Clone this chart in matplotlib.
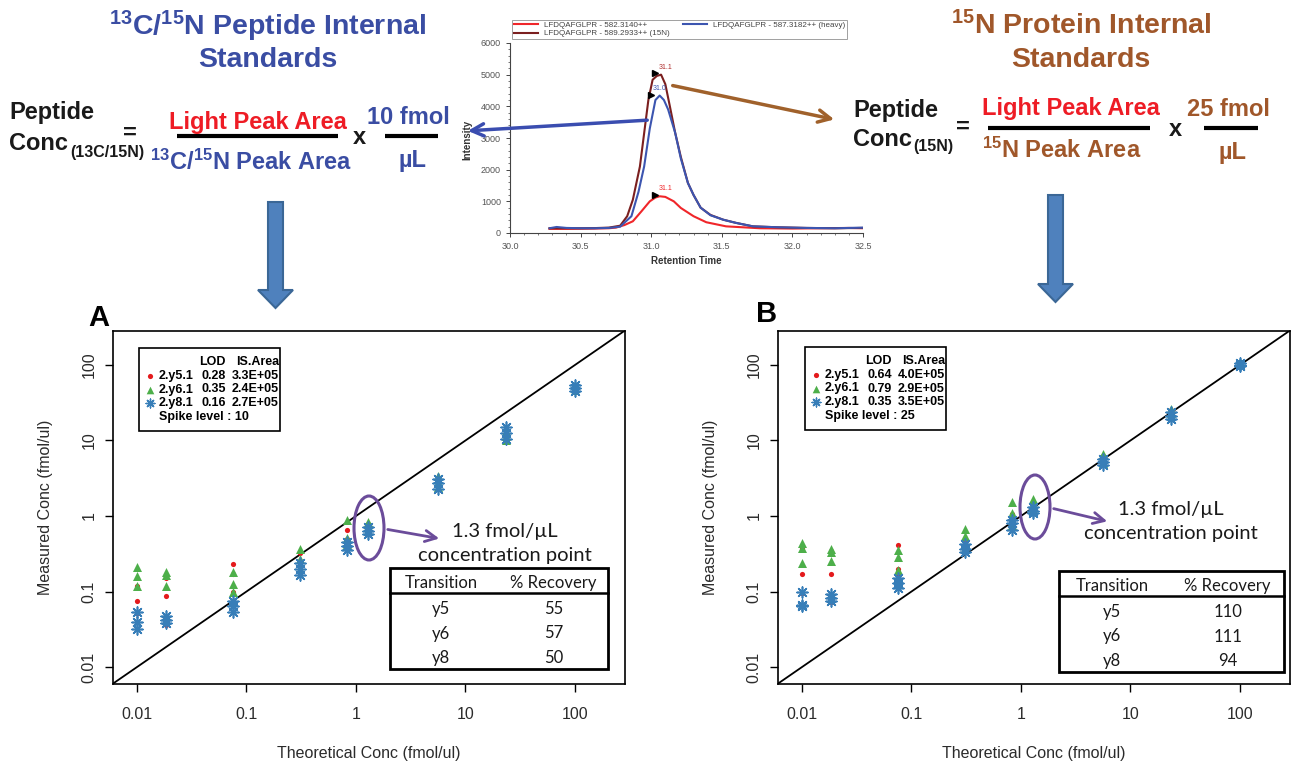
import numpy as np
import matplotlib.pyplot as plt
from matplotlib import patches
from matplotlib.ticker import MultipleLocator, NullLocator

plt.rcParams['font.family'] = ['Liberation Sans', 'DejaVu Sans']
plt.rcParams['mathtext.fontset'] = 'custom'
plt.rcParams['mathtext.rm'] = 'Liberation Sans:bold'
plt.rcParams['mathtext.it'] = 'Liberation Sans:bold'
plt.rcParams['mathtext.bf'] = 'Liberation Sans:bold'

W, H = 1292, 763

# chromatogram traces (retention time, intensity)
rt_light = [30.28, 30.40, 30.50, 30.60, 30.70, 30.75, 30.81, 30.87, 30.93, 30.99, 31.03, 31.06,
            31.10, 31.16, 31.21, 31.30, 31.39, 31.53, 31.77, 32.00, 32.20, 32.40, 32.50]
int_light = [130, 130, 135, 140, 150, 170, 250, 370, 680, 1000, 1120, 1160,
             1140, 1000, 790, 530, 340, 210, 150, 140, 150, 160, 150]

rt_heavy = [30.28, 30.33, 30.40, 30.50, 30.60, 30.70, 30.78, 30.86, 30.91, 30.95, 30.99, 31.03, 31.06,
            31.09, 31.12, 31.17, 31.21, 31.26, 31.30, 31.35, 31.42, 31.51, 31.60, 31.72, 31.90, 32.10,
            32.30, 32.50]
int_heavy = [150, 190, 160, 150, 150, 160, 200, 530, 1300, 2100, 3300, 4200, 4340,
             4200, 3900, 3160, 2350, 1580, 1200, 800, 560, 420, 320, 210, 180, 160,
             150, 170]

rt_15n = [30.28, 30.40, 30.50, 30.60, 30.70, 30.78, 30.83, 30.87, 30.92, 30.98, 31.01, 31.04, 31.07,
          31.10, 31.13, 31.17, 31.21, 31.26, 31.30, 31.35, 31.42, 31.51, 31.60, 31.72, 31.90, 32.10,
          32.30, 32.50]
int_15n = [150, 150, 150, 155, 170, 230, 530, 1050, 2100, 4200, 4840, 4960, 5000,
           4700, 4050, 3160, 2400, 1580, 1200, 800, 570, 420, 320, 210, 180, 160,
           150, 160]

trace_names = ['LFDQAFGLPR - 582.3140++', 'LFDQAFGLPR - 589.2933++ (15N)', 'LFDQAFGLPR - 587.3182++ (heavy)']
peak_rt = [31.1, 31.0, 31.1]          # 15N, heavy, light apex labels

# calibration: theoretical concentration levels (fmol/ul)
conc = [0.01, 0.0185, 0.075, 0.31, 0.82, 1.3, 5.6, 23.5, 100]

# panel A measured conc, 3 replicates per level
a_y5 = [[0.12, 0.076, 0.052], [0.15, 0.087, 0.036], [0.23, 0.17, 0.10], [0.32, 0.25, 0.21],
        [0.65, 0.50, 0.45], [0.78, 0.72, 0.66], [3.2, 2.8, 2.5], [13.5, 12.0, 10.5], [52, 49, 46]]
a_y6 = [[0.21, 0.16, 0.12], [0.18, 0.165, 0.12], [0.18, 0.126, 0.10], [0.37, 0.27, 0.20],
        [0.88, 0.51, 0.42], [0.84, 0.74, 0.66], [3.4, 2.85, 2.4], [13.5, 11.5, 10.2], [54, 50, 46]]
a_y8 = [[0.054, 0.040, 0.032], [0.047, 0.042, 0.038], [0.075, 0.064, 0.054], [0.24, 0.20, 0.165],
        [0.45, 0.40, 0.36], [0.72, 0.63, 0.58], [3.1, 2.7, 2.3], [15.0, 12.5, 10.5], [55, 50, 45]]

# panel B measured conc
b_y5 = [[0.38, 0.17, 0.095], [0.34, 0.17, 0.072], [0.41, 0.20, 0.16], [0.50, 0.42, 0.37],
        [1.05, 0.95, 0.80], [1.50, 1.42, 1.35], [6.2, 5.5, 5.0], [25, 22, 20], [108, 104, 100]]
b_y6 = [[0.44, 0.38, 0.24], [0.37, 0.33, 0.25], [0.36, 0.29, 0.19], [0.68, 0.54, 0.38],
        [1.55, 1.10, 0.75], [1.66, 1.45, 1.25], [6.7, 5.9, 5.1], [26, 23, 21], [110, 105, 101]]
b_y8 = [[0.10, 0.067, 0.065], [0.092, 0.082, 0.074], [0.15, 0.13, 0.11], [0.42, 0.37, 0.33],
        [0.88, 0.80, 0.65], [1.30, 1.18, 1.08], [5.6, 5.2, 4.8], [24, 21, 19], [106, 100, 96]]

transitions = ['2.y5.1', '2.y6.1', '2.y8.1']
a_lod = ['0.28', '0.35', '0.16']
a_area = ['3.3E+05', '2.4E+05', '2.7E+05']
b_lod = ['0.64', '0.79', '0.35']
b_area = ['4.0E+05', '2.9E+05', '3.5E+05']
a_spike, b_spike = 10, 25

table_ions = ['y5', 'y6', 'y8']
a_recovery = [55, 57, 50]
b_recovery = [110, 111, 94]

ticks = [0.01, 0.1, 1, 10, 100]
tick_labels = ['0.01', '0.1', '1', '10', '100']
lim = (0.006, 285)

col_y5, col_y6, col_y8 = '#E41A1C', '#4DAF4A', '#377EB8'
blue_t, brown_t, red_t = '#3A4DA3', '#A0572A', '#EE1C25'
purple = '#6B4C9A'

fig = plt.figure(figsize=(W / 100, H / 100), dpi=100)


def px_rect(x0, y0, x1, y1):
    return [x0 / W, 1 - y1 / H, (x1 - x0) / W, (y1 - y0) / H]


# ---- chromatogram inset
cax = fig.add_axes(px_rect(510, 43, 863, 233))
cax.plot(rt_light, int_light, color='#F0262A', lw=1.5, label=trace_names[0])
cax.plot(rt_15n, int_15n, color='#7B1F1F', lw=1.5, label=trace_names[1])
cax.plot(rt_heavy, int_heavy, color='#3C55B0', lw=1.5, label=trace_names[2])
cax.set_xlim(30.0, 32.5)
cax.set_ylim(0, 6000)
cax.set_xticks([30.0, 30.5, 31.0, 31.5, 32.0, 32.5])
cax.set_yticks([0, 1000, 2000, 3000, 4000, 5000, 6000])
cax.xaxis.set_minor_locator(MultipleLocator(0.1))
cax.yaxis.set_minor_locator(MultipleLocator(200))
cax.tick_params(labelsize=6.5, labelcolor='#555555', length=3, width=0.7, color='#444444')
cax.tick_params(which='minor', length=1.5, width=0.5, color='#444444')
for s in ['top', 'right']:
    cax.spines[s].set_visible(False)
for s in ['left', 'bottom']:
    cax.spines[s].set_linewidth(0.8)
    cax.spines[s].set_color('#444444')
cax.set_xlabel('Retention Time', fontsize=7, weight='bold', color='#333333')
cax.set_ylabel('Intensity', fontsize=7, weight='bold', color='#333333')
cax.xaxis.set_label_coords(0.5, -0.147)
cax.yaxis.set_label_coords(-0.122, 0.49)
cax.xaxis.label.set_va('center')
cax.yaxis.label.set_va('center')
# apex markers and labels
cax.plot([31.03, 31.00, 31.03], [5060, 4360, 1200], linestyle='none', marker='>', color='k', ms=4)
cax.text(31.1, 5230, f'{peak_rt[0]:.1f}', fontsize=5, color='#B03030', ha='center', va='center')
cax.text(31.06, 4560, f'{peak_rt[1]:.1f}', fontsize=5, color='#3C55B0', ha='center', va='center')
cax.text(31.1, 1400, f'{peak_rt[2]:.1f}', fontsize=5, color='#F0262A', ha='center', va='center')
leg = cax.legend(ncol=2, loc='lower left', bbox_to_anchor=(0.006, 1.021, 0.949, 0.1), mode='expand',
                 borderaxespad=0, fontsize=5.8, handlelength=3, frameon=True, fancybox=False,
                 borderpad=0.2, labelspacing=0.1, columnspacing=1, handletextpad=0.8)
leg.get_frame().set_edgecolor('#888888')
leg.get_frame().set_linewidth(0.7)
for t in leg.get_texts():
    t.set_color('#444444')


# ---- calibration panels
def calib_panel(rect, y5, y6, y8):
    ax = fig.add_axes(rect)
    ax.set_xscale('log')
    ax.set_yscale('log')
    ax.set_xlim(lim)
    ax.set_ylim(lim)
    ax.plot(lim, lim, color='k', lw=1.3, zorder=1)
    xs = np.repeat(conc, 3)
    ax.scatter(xs, np.ravel(y5), s=14, color=col_y5, marker='o', lw=0, zorder=2)
    ax.scatter(xs, np.ravel(y6), s=42, color=col_y6, marker='^', lw=0, zorder=3)
    ax.scatter(xs, np.ravel(y8), s=60, color=col_y8, marker=(8, 2, 0), lw=1.2, zorder=4)
    ax.set_xticks(ticks)
    ax.set_xticklabels(tick_labels)
    ax.set_yticks(ticks)
    ax.set_yticklabels(tick_labels, rotation=90, va='center')
    ax.xaxis.set_minor_locator(NullLocator())
    ax.yaxis.set_minor_locator(NullLocator())
    ax.tick_params(direction='out', length=5.5, width=1, labelsize=11.5, labelcolor='#2B2B2B')
    ax.tick_params(axis='x', pad=11)
    ax.tick_params(axis='y', pad=6)
    for s in ax.spines.values():
        s.set_linewidth(1.2)
    ax.set_xlabel('Theoretical Conc (fmol/ul)', fontsize=11.5, color='#2B2B2B')
    ax.set_ylabel('Measured Conc (fmol/ul)', fontsize=11.5, color='#2B2B2B')
    ax.xaxis.set_label_coords(0.5, -0.196)
    ax.yaxis.set_label_coords(-0.132, 0.5)
    ax.xaxis.label.set_va('center')
    ax.yaxis.label.set_va('center')
    return ax


calib_panel(px_rect(112.7, 330.6, 624.8, 683.8), a_y5, a_y6, a_y8)
calib_panel(px_rect(777.7, 330.6, 1289.8, 683.8), b_y5, b_y6, b_y8)

# ---- overlay in pixel coordinates
ov = fig.add_axes([0, 0, 1, 1])
ov.set_xlim(0, W)
ov.set_ylim(H, 0)
ov.axis('off')
ov.patch.set_visible(False)

# titles
tt = dict(fontsize=20.5, weight='bold', ha='center', va='center')
ov.text(268, 26, r'$^{13}$C/$^{15}$N Peptide Internal', color=blue_t, **tt)
ov.text(268, 60, 'Standards', color=blue_t, **tt)
ov.text(1081, 26, r'$^{15}$N Protein Internal', color=brown_t, **tt)
ov.text(1081, 60, 'Standards', color=brown_t, **tt)

# left equation
eq = dict(fontsize=17, weight='bold', va='center')
ov.text(9, 113, 'Peptide', color='#1A1A1A', ha='left', **eq)
ov.text(9, 143, 'Conc', color='#1A1A1A', ha='left', **eq)
ov.text(70, 152, '(13C/15N)', color='#1A1A1A', ha='left', fontsize=11.5, weight='bold', va='center')
ov.text(130, 133, '=', color='#1A1A1A', ha='center', **eq)
ov.text(258, 122, 'Light Peak Area', color=red_t, ha='center', **eq)
ov.plot([177, 338], [136, 136], color='k', lw=3, solid_capstyle='butt')
ov.text(251, 162, r'$^{13}$C/$^{15}$N Peak Area', color=blue_t, ha='center', **eq)
ov.text(359, 137, 'x', color='#1A1A1A', ha='center', **eq)
ov.text(408, 117, '10 fmol', color=blue_t, ha='center', **eq)
ov.plot([385, 438], [136, 136], color='k', lw=3, solid_capstyle='butt')
ov.text(412, 160, 'µL', color=blue_t, ha='center', **eq)

# right equation
ov.text(853, 110, 'Peptide', color='#1A1A1A', ha='left', **eq)
ov.text(853, 140, 'Conc', color='#1A1A1A', ha='left', **eq)
ov.text(913, 147, '(15N)', color='#1A1A1A', ha='left', fontsize=11.5, weight='bold', va='center')
ov.text(963, 127, '=', color='#1A1A1A', ha='center', **eq)
ov.text(1071, 108, 'Light Peak Area', color=red_t, ha='center', **eq)
ov.plot([988, 1150], [128, 128], color='k', lw=3, solid_capstyle='butt')
ov.text(1062, 150, r'$^{15}$N Peak Area', color=brown_t, ha='center', **eq)
ov.text(1175, 129, 'x', color='#1A1A1A', ha='center', **eq)
ov.text(1228, 110, '25 fmol', color=brown_t, ha='center', **eq)
ov.plot([1204, 1258], [128, 128], color='k', lw=3, solid_capstyle='butt')
ov.text(1232, 152, 'µL', color=brown_t, ha='center', **eq)

# arrows from chromatogram to equations
ov.annotate('', xy=(465, 131), xytext=(650, 120),
            arrowprops=dict(arrowstyle='->', color='#3A4DB0', lw=2.5, mutation_scale=22))
ov.annotate('', xy=(837, 120), xytext=(670, 85),
            arrowprops=dict(arrowstyle='->', color='#A0612B', lw=2.5, mutation_scale=22))

# block arrows down to the panels
for xc, y0, y1 in [(275.5, 202, 308), (1055.5, 195, 302)]:
    ov.add_patch(patches.FancyArrow(xc, y0, 0, y1 - y0, width=15, head_width=35, head_length=18,
                                    length_includes_head=True, fc='#4F81BD', ec='#3B6796', lw=1.5))

# panel letters
ov.text(99, 318, 'A', fontsize=21, weight='bold', ha='center', va='center')
ov.text(767, 314, 'B', fontsize=21, weight='bold', ha='center', va='center')


def legend_box(x0, y0, lods, areas, spike):
    ov.add_patch(patches.Rectangle((x0, y0), 141, 83, fill=True, fc='white', ec='k', lw=1.2))
    lf = dict(fontsize=9, weight='bold', va='center')
    ov.text(x0 + 87, y0 + 14, 'LOD', ha='right', **lf)
    ov.text(x0 + 140, y0 + 14, 'IS.Area', ha='right', **lf)
    cols = [col_y5, col_y6, col_y8]
    mks = ['o', '^', (8, 2, 0)]
    sz = [14, 30, 40]
    for i in range(3):
        yy = y0 + 28 + i * 13.5
        ov.scatter([x0 + 11], [yy], s=sz[i], color=cols[i], marker=mks[i], lw=1 if i == 2 else 0)
        ov.text(x0 + 20, yy, transitions[i], ha='left', **lf)
        ov.text(x0 + 87, yy, lods[i], ha='right', **lf)
        ov.text(x0 + 140, yy, areas[i], ha='right', **lf)
    ov.text(x0 + 20, y0 + 69, f'Spike level : {spike}', ha='left', **lf)


legend_box(139, 348, a_lod, a_area, a_spike)
legend_box(805, 347, b_lod, b_area, b_spike)


def callout(cx, cy, ax_end, ay_end, tx):
    ov.add_patch(patches.Ellipse((cx, cy), 30, 64, fill=False, ec=purple, lw=2.2))
    ov.annotate('', xy=(ax_end, ay_end), xytext=(cx + 16, cy + 1),
                arrowprops=dict(arrowstyle='->', color=purple, lw=2, mutation_scale=20))
    ov.text(tx, cy + 3, '1.3 fmol/µL', fontsize=14.5, family='Lato', ha='center', va='center', color='#1A1A1A')
    ov.text(tx, cy + 27, 'concentration point', fontsize=14.5, family='Lato', ha='center', va='center',
            color='#1A1A1A')


callout(369, 528, 442, 539, 505)
callout(1035, 507, 1110, 522, 1171)


def recovery_table(x0, y0, x1, y1, recs):
    ov.add_patch(patches.Rectangle((x0, y0), x1 - x0, y1 - y0, fc='white', ec='k', lw=2))
    ov.plot([x0, x1], [y0 + 25, y0 + 25], color='k', lw=1.8)
    c1 = x0 + (x1 - x0) * 0.235
    c2 = x0 + (x1 - x0) * 0.75
    tf = dict(fontsize=12, family='Lato', va='center', ha='center', color='#1A1A1A')
    ov.text(c1, y0 + 15, 'Transition', **tf)
    ov.text(c2, y0 + 15, '% Recovery', **tf)
    for i in range(3):
        yy = y0 + 41 + i * 24.5
        ov.text(c1, yy, table_ions[i], **tf)
        ov.text(c2, yy, str(recs[i]), **tf)


recovery_table(390, 568, 608, 669, a_recovery)
recovery_table(1059, 571, 1284, 672, b_recovery)

fig.savefig('out.png', dpi=100)
